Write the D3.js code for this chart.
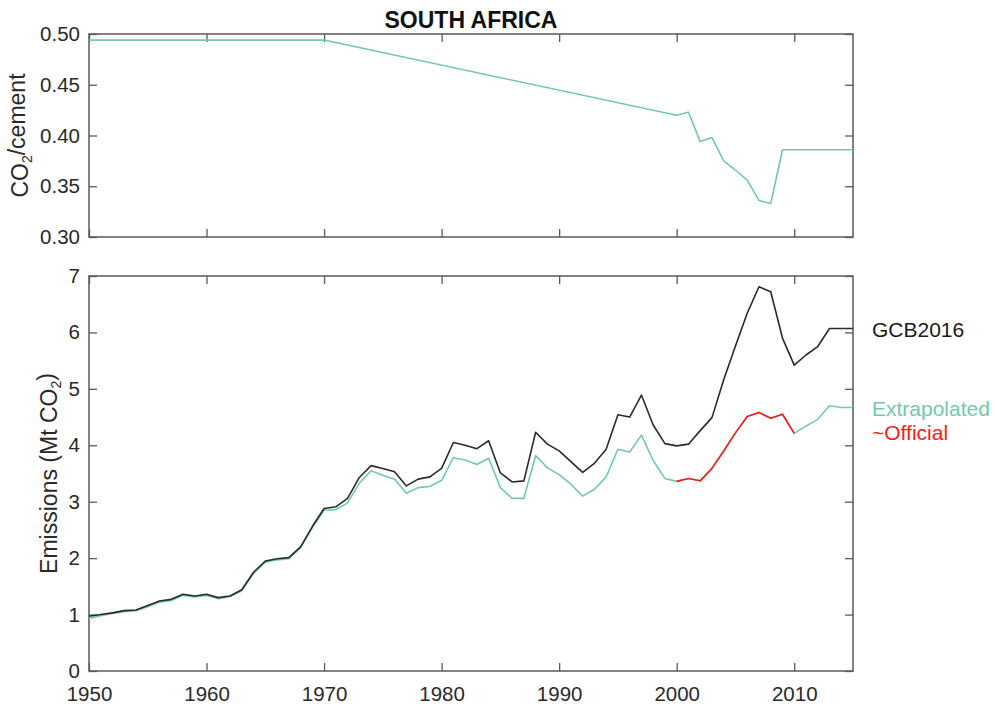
<!DOCTYPE html>
<html>
<head>
<meta charset="utf-8">
<script src="https://cdn.jsdelivr.net/npm/d3@7"></script>
<style>
  html, body { margin: 0; padding: 0; background: #fff; }
  svg { display: block; font-family: "Liberation Sans", Arial, Helvetica, sans-serif; }
</style>
</head>
<body>
<svg id="chart" width="994" height="709"></svg>
<script>
// ---- Data ----
const title = "SOUTH AFRICA";

// CO2 per cement ratio (top panel)
const ratioYears  = [1950, 1970, 2000, 2001, 2002, 2003, 2004, 2005, 2006, 2007, 2008, 2009, 2010, 2011, 2012, 2013, 2014, 2015];
const ratioValues = [0.494, 0.494, 0.420, 0.423, 0.394, 0.398, 0.375, 0.366, 0.356, 0.336, 0.333, 0.386, 0.386, 0.386, 0.386, 0.386, 0.386, 0.386];

// Emissions (bottom panel)
const years = [1950,1951,1952,1953,1954,1955,1956,1957,1958,1959,
               1960,1961,1962,1963,1964,1965,1966,1967,1968,1969,
               1970,1971,1972,1973,1974,1975,1976,1977,1978,1979,
               1980,1981,1982,1983,1984,1985,1986,1987,1988,1989,
               1990,1991,1992,1993,1994,1995,1996,1997,1998,1999,
               2000,2001,2002,2003,2004,2005,2006,2007,2008,2009,
               2010,2011,2012,2013,2014,2015];

const gcb2016 = [0.97,1.00,1.03,1.07,1.08,1.16,1.24,1.27,1.36,1.33,
                 1.36,1.30,1.33,1.44,1.75,1.95,1.99,2.01,2.20,2.56,
                 2.88,2.91,3.06,3.43,3.64,3.59,3.53,3.28,3.40,3.44,
                 3.59,4.05,4.00,3.94,4.08,3.51,3.35,3.37,4.23,4.02,
                 3.90,3.71,3.52,3.68,3.93,4.54,4.50,4.89,4.36,4.03,
                 3.99,4.02,4.26,4.49,5.16,5.76,6.34,6.81,6.72,5.90,
                 5.42,5.60,5.75,6.07,6.07,6.07];

const extrapolated = [0.93,0.98,1.02,1.05,1.07,1.14,1.22,1.25,1.34,1.31,
                      1.34,1.28,1.32,1.42,1.73,1.93,1.97,1.99,2.18,2.54,
                      2.85,2.86,2.98,3.33,3.55,3.47,3.40,3.15,3.25,3.27,
                      3.38,3.78,3.74,3.66,3.77,3.25,3.06,3.06,3.82,3.60,
                      3.48,3.31,3.10,3.22,3.44,3.93,3.88,4.18,3.73,3.41,
                      3.36,3.41,3.37,3.59,3.90,4.22,4.51,4.58,4.48,4.55,
                      4.21,4.34,4.46,4.70,4.67,4.67];

const officialYears  = [2000,2001,2002,2003,2004,2005,2006,2007,2008,2009,2010];
const officialValues = [3.36,3.41,3.37,3.59,3.90,4.22,4.51,4.58,4.48,4.55,4.21];

const xTicks = [1950, 1960, 1970, 1980, 1990, 2000, 2010];
const topYTicks = [0.30, 0.35, 0.40, 0.45, 0.50];
const botYTicks = [0, 1, 2, 3, 4, 5, 6, 7];

const legend = [
  { label: "GCB2016", color: "#1a1a1a" },
  { label: "Extrapolated", color: "#72c9ab" },
  { label: "~Official", color: "#ff1a1a" }
];

// ---- Layout ----
const svg = d3.select("#chart");
const left = 89, right = 853;
const top1 = 34, bot1 = 237;
const top2 = 276, bot2 = 671;
const frameColor = "#5a5a5a";
const textColor = "#2a2a2a";
const fontSize = 20.5;
const labelSize = 23;
const tickLen = 8;

const x = d3.scaleLinear().domain([1950, 2015]).range([left, right]);
const yTop = d3.scaleLinear().domain([0.30, 0.50]).range([bot1, top1]);
const yBot = d3.scaleLinear().domain([0, 7]).range([bot2, top2]);

function styleAxis(g, showLabels) {
  g.select(".domain").remove();
  g.selectAll(".tick line").attr("stroke", frameColor).attr("stroke-width", 1.3);
  g.selectAll(".tick text")
    .attr("fill", textColor)
    .style("font-size", fontSize + "px");
  if (!showLabels) g.selectAll(".tick text").remove();
}

function panel(yScale, yt, yFmt, t, b, showX) {
  svg.append("g").attr("transform", `translate(0,${b})`)
    .call(d3.axisBottom(x).tickValues(xTicks).tickSize(-tickLen).tickSizeOuter(0)
      .tickPadding(15).tickFormat(d3.format("d")))
    .call(g => styleAxis(g, showX));
  svg.append("g").attr("transform", `translate(0,${t})`)
    .call(d3.axisTop(x).tickValues(xTicks).tickSize(-tickLen).tickSizeOuter(0).tickFormat(""))
    .call(g => styleAxis(g, false));
  svg.append("g").attr("transform", `translate(${left},0)`)
    .call(d3.axisLeft(yScale).tickValues(yt).tickSize(-tickLen).tickSizeOuter(0)
      .tickPadding(9).tickFormat(yFmt))
    .call(g => styleAxis(g, true));
  svg.append("g").attr("transform", `translate(${right},0)`)
    .call(d3.axisRight(yScale).tickValues(yt).tickSize(-tickLen).tickSizeOuter(0).tickFormat(""))
    .call(g => styleAxis(g, false));
  svg.append("rect")
    .attr("x", left).attr("y", t)
    .attr("width", right - left).attr("height", b - t)
    .attr("fill", "none").attr("stroke", frameColor).attr("stroke-width", 1.5);
}

panel(yTop, topYTicks, d3.format(".2f"), top1, bot1, false);
panel(yBot, botYTicks, d3.format("d"), top2, bot2, true);

// ---- Lines ----
const lineTop = d3.line().x((d, i) => x(ratioYears[i])).y(d => yTop(d));
svg.append("path").datum(ratioValues)
  .attr("d", lineTop).attr("fill", "none")
  .attr("stroke", "#72c9ab").attr("stroke-width", 1.6).attr("stroke-linejoin", "round");

const lineBot = d3.line().x((d, i) => x(years[i])).y(d => yBot(d));
svg.append("path").datum(extrapolated)
  .attr("d", lineBot).attr("fill", "none")
  .attr("stroke", "#72c9ab").attr("stroke-width", 1.6).attr("stroke-linejoin", "round");

const lineOff = d3.line().x((d, i) => x(officialYears[i])).y(d => yBot(d));
svg.append("path").datum(officialValues)
  .attr("d", lineOff).attr("fill", "none")
  .attr("stroke", "#ff1a1a").attr("stroke-width", 1.6).attr("stroke-linejoin", "round");

svg.append("path").datum(gcb2016)
  .attr("d", lineBot).attr("fill", "none")
  .attr("stroke", "#2b2b2b").attr("stroke-width", 1.6).attr("stroke-linejoin", "round");

// ---- Title ----
svg.append("text")
  .attr("x", (left + right) / 2).attr("y", 28)
  .attr("text-anchor", "middle")
  .attr("font-weight", "bold")
  .style("font-size", "23px")
  .attr("fill", "#111")
  .text(title);

// ---- Y labels ----
const yl1 = svg.append("text")
  .attr("transform", `translate(28,${(top1 + bot1) / 2}) rotate(-90)`)
  .attr("text-anchor", "middle")
  .style("font-size", labelSize + "px")
  .attr("fill", textColor);
yl1.append("tspan").text("CO");
yl1.append("tspan").text("2").style("font-size", "14px").attr("dy", "0.3em");
yl1.append("tspan").text("/cement").attr("dy", "-0.3em");

const yl2 = svg.append("text")
  .attr("transform", `translate(57,${(top2 + bot2) / 2}) rotate(-90)`)
  .attr("text-anchor", "middle")
  .style("font-size", labelSize + "px")
  .attr("fill", textColor);
yl2.append("tspan").text("Emissions (Mt CO");
yl2.append("tspan").text("2").style("font-size", "14px").attr("dy", "0.3em");
yl2.append("tspan").text(")").attr("dy", "-0.3em");

// ---- Legend ----
const legendY = [337, 416, 440];
svg.selectAll(".legend").data(legend).enter().append("text")
  .attr("class", "legend")
  .attr("x", 872)
  .attr("y", (d, i) => legendY[i])
  .style("font-size", "21px")
  .attr("fill", d => d.color)
  .text(d => d.label);
</script>
</body>
</html>
